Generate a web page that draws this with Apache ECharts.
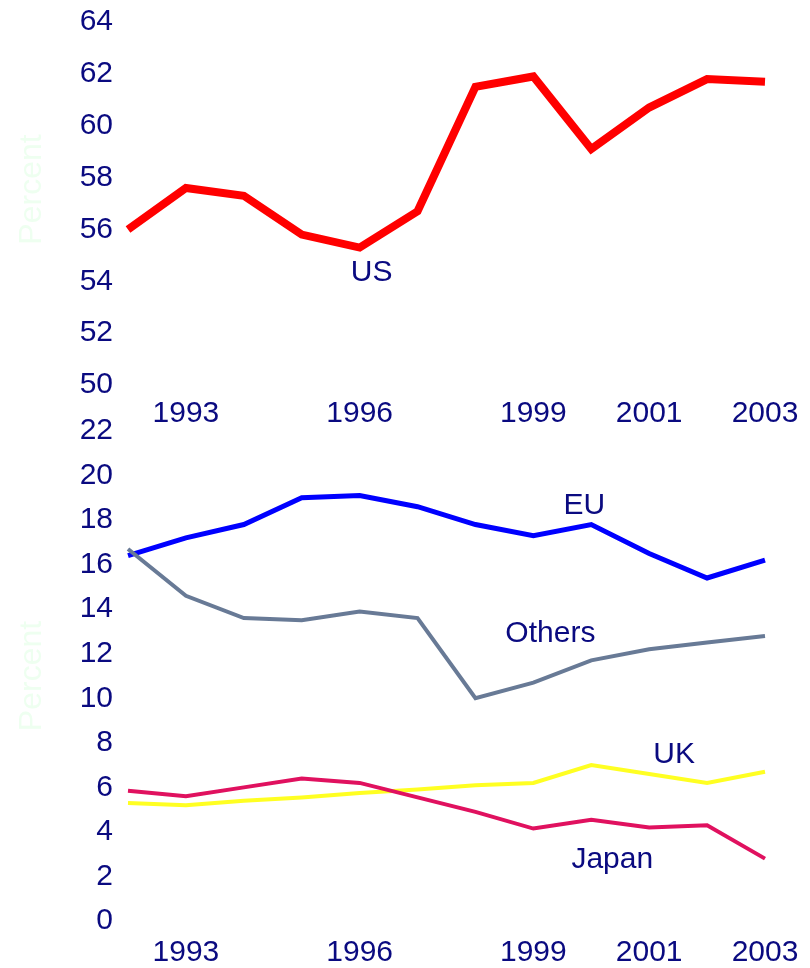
<!DOCTYPE html>
<html>
<head>
<meta charset="utf-8">
<script src="https://cdn.jsdelivr.net/npm/echarts@6/dist/echarts.min.js"></script>
<style>
  html, body { margin: 0; padding: 0; background: #ffffff; }
  #main { width: 810px; height: 968px; }
</style>
</head>
<body>
<div id="main"></div>
<script>
// years on the x axis (only some get a label)
var years = ['1992', '1993', '1994', '1995', '1996', '1997', '1998', '1999', '2000', '2001', '2002', '2003'];
var shownYears = ['1993', '1996', '1999', '2001', '2003'];

// top panel
var usData = [56.0, 57.6, 57.3, 55.8, 55.3, 56.7, 61.5, 61.9, 59.1, 60.7, 61.8, 61.7];

// bottom panel
var euData = [16.4, 17.2, 17.8, 19.0, 19.1, 18.6, 17.8, 17.3, 17.8, 16.5, 15.4, 16.2];
var othersData = [16.7, 14.6, 13.6, 13.5, 13.9, 13.6, 10.0, 10.7, 11.7, 12.2, 12.5, 12.8];
var ukData = [5.3, 5.2, 5.4, 5.55, 5.75, 5.9, 6.1, 6.2, 7.0, 6.6, 6.2, 6.7];
var japanData = [5.85, 5.6, 6.0, 6.4, 6.2, 5.55, 4.9, 4.15, 4.55, 4.2, 4.3, 2.8];

var navy = '#0a0a80';
var font = '"Liberation Sans", Arial, sans-serif';

function makeXAxis(idx, margin) {
    return {
        type: 'category',
        gridIndex: idx,
        data: years,
        boundaryGap: false,
        axisLine: { show: false },
        axisTick: { show: false },
        splitLine: { show: false },
        axisLabel: {
            color: navy,
            fontSize: 30,
            fontFamily: font,
            margin: margin,
            interval: function (i, v) { return shownYears.indexOf(v) >= 0; }
        }
    };
}

function makeYAxis(idx, min, max, pad) {
    return {
        type: 'value',
        gridIndex: idx,
        min: min,
        max: max,
        interval: 2,
        name: 'Percent',
        nameLocation: 'middle',
        nameRotate: 90,
        nameGap: 80,
        nameTextStyle: { color: '#eefff0', fontSize: 32, fontFamily: font, padding: pad },
        axisLine: { show: false },
        axisTick: { show: false },
        splitLine: { show: false },
        axisLabel: { color: navy, fontSize: 30, fontFamily: font, margin: 15 }
    };
}

function lineLabel(text, coord, offset) { // 线旁边的名字
    return {
        coord: coord,
        symbol: 'rect',
        symbolSize: 1,
        itemStyle: { color: 'rgba(0,0,0,0)' },
        label: {
            show: true,
            formatter: text,
            color: navy,
            fontSize: 30,
            fontFamily: font,
            offset: offset,
            position: 'inside'
        }
    };
}

function makeLine(name, data, color, width, xi, labelItem) {
    return {
        name: name,
        type: 'line',
        xAxisIndex: xi,
        yAxisIndex: xi,
        data: data,
        symbol: 'none',
        silent: true,
        animation: false,
        lineStyle: { color: color, width: width, join: 'miter' },
        markPoint: {
            silent: true,
            animation: false,
            data: [labelItem]
        }
    };
}

var chart = echarts.init(document.getElementById('main'));
var option = {
    backgroundColor: '#ffffff',
    animation: false,
    grid: [
        { left: 128, right: 45, top: 22, height: 363 },
        { left: 128, right: 45, top: 431, height: 492 }
    ],
    xAxis: [makeXAxis(0, 14), makeXAxis(1, 17)],
    yAxis: [makeYAxis(0, 50, 64, [0, 0, 0, 28]), makeYAxis(1, 0, 22, 0)],
    series: [
        makeLine('US', usData, '#ff0000', 8, 0, lineLabel('US', ['1996', 54.35], [12, 1])),
        makeLine('EU', euData, '#0000ff', 5, 1, lineLabel('EU', ['2000', 18.66], [-7, 0])),
        makeLine('Others', othersData, '#687a96', 4, 1, lineLabel('Others', ['1999', 12.89], [17, 0])),
        makeLine('UK', ukData, '#ffff22', 4, 1, lineLabel('UK', ['2001', 7.47], [25, 0])),
        makeLine('Japan', japanData, '#e0115f', 4, 1, lineLabel('Japan', ['2000', 2.77], [21, 0]))
    ]
};
chart.setOption(option);
</script>
</body>
</html>
